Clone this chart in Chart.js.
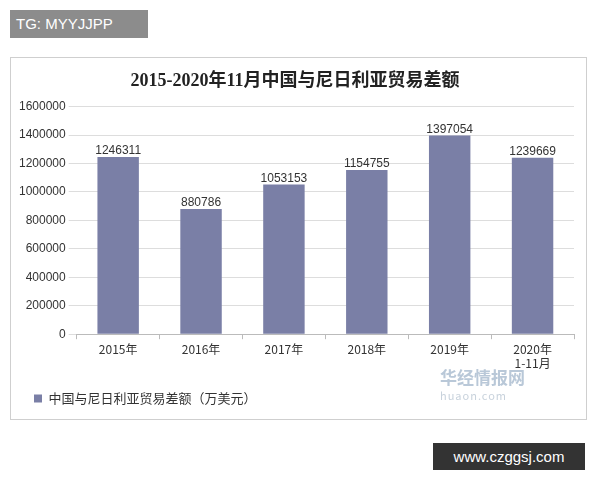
<!DOCTYPE html>
<html><head><meta charset="utf-8">
<script src="https://cdn.jsdelivr.net/npm/chart.js@4/dist/chart.umd.min.js"></script>
<style>
body{margin:0;width:600px;height:480px;background:#fff;position:relative;font-family:"Noto Sans CJK SC",sans-serif;overflow:hidden}
#box{position:absolute;left:10px;top:57px;width:577px;height:363px;border:1px solid #cfcfcf;box-sizing:border-box}
#tg{position:absolute;left:10px;top:10px;width:138px;height:28px;background:#8c8c8c;color:#fff;font:15px "Liberation Sans",sans-serif;line-height:28px;padding-left:6px;box-sizing:border-box}
#web{position:absolute;left:433px;top:443px;width:152px;height:27px;background:#333;color:#fff;font:15px "Liberation Sans",sans-serif;line-height:27px;text-align:center}
#logo{position:absolute;left:440px;top:368px;color:#b9c8d8;font-size:17px;font-weight:bold;line-height:18px}
#logo small{display:block;font-size:11px;font-weight:normal;color:#c8d2dc;letter-spacing:1px}
</style></head><body>
<div id="tg">TG: MYYJJPP</div>
<div id="box"><canvas id="c" width="575" height="361"></canvas></div>
<div id="logo">华经情报网<small>huaon.com</small></div>
<div id="web">www.czggsj.com</div>
<script>
const categories=[["2015年"],["2016年"],["2017年"],["2018年"],["2019年"],["2020年","1-11月"]];
const values=[1246311,880786,1053153,1154755,1397054,1239669];
const seriesName="中国与尼日利亚贸易差额（万美元）";
const labelPlugin={id:'lbl',afterDatasetsDraw(ch){const c=ch.ctx;const m=ch.getDatasetMeta(0);c.save();c.font='12px "Liberation Sans",sans-serif';c.fillStyle='#333';c.textAlign='center';m.data.forEach((b,i)=>c.fillText(values[i],b.x,b.y-6));c.restore();}};
new Chart(document.getElementById('c'),{type:'bar',
data:{labels:categories,datasets:[{label:seriesName,data:values,backgroundColor:'#7a7fa6',categoryPercentage:1,barPercentage:0.5}]},
options:{responsive:false,animation:false,
layout:{padding:{left:5,right:12,top:5,bottom:4}},
plugins:{title:{display:true,text:'2015-2020年11月中国与尼日利亚贸易差额',font:{size:18,weight:'bold',family:'"Liberation Serif","Noto Sans CJK SC"'},color:'#222',padding:{top:8,bottom:14}},
legend:{position:'bottom',align:'start',labels:{boxWidth:8,boxHeight:8,color:'#333',font:{size:13,family:'"Noto Sans CJK SC"'},padding:18}},tooltip:{enabled:false}},
scales:{y:{min:0,max:1600000,ticks:{stepSize:200000,color:'#333',callback:v=>String(v),font:{size:12,family:'"Liberation Sans"'}},grid:{color:'#ddd'},border:{display:false}},
x:{grid:{display:true,drawOnChartArea:false,color:'#bbb',tickLength:5},border:{color:'#bbb'},ticks:{color:'#333',font:{size:12,family:'"Noto Sans CJK SC"'}}}}},
plugins:[labelPlugin]});
</script></body></html>
